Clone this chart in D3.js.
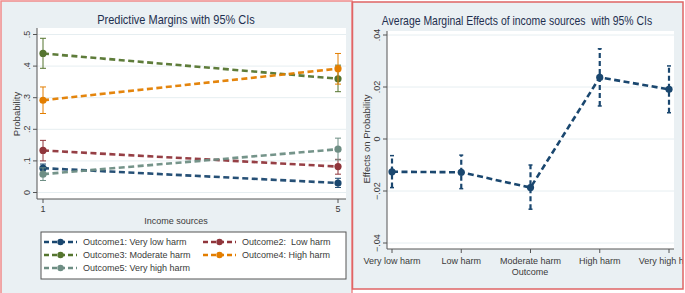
<!DOCTYPE html>
<html>
<head>
<meta charset="utf-8">
<script src="https://cdn.jsdelivr.net/npm/d3@7"></script>
<style>
  body { margin: 0; background: #fff; }
  svg { display: block; font-family: "Liberation Sans", Arial, sans-serif; }
  text { white-space: pre; }
</style>
</head>
<body>
<svg width="685" height="293"></svg>
<script>
// left panel data: predictive margins
const incomeTicks = [1, 5];
const outcomeLabels = ["Outcome1: Very low harm", "Outcome2:  Low harm", "Outcome3: Moderate harm",
                       "Outcome4: High harm", "Outcome5: Very high harm"];
const outcomeColors = ["#1a476f", "#90353b", "#55752f", "#e37e00", "#6e8e84"];
const marginMean = [[0.077, 0.030], [0.133, 0.082], [0.440, 0.360], [0.292, 0.392], [0.058, 0.137]];
const marginLow  = [[0.064, 0.016], [0.100, 0.058], [0.393, 0.319], [0.250, 0.343], [0.038, 0.103]];
const marginHigh = [[0.090, 0.045], [0.165, 0.105], [0.488, 0.403], [0.334, 0.440], [0.078, 0.172]];
const probTicks = [0, 0.1, 0.2, 0.3, 0.4, 0.5];

// right panel data: average marginal effects
const effectCats = ["Very low harm", "Low harm", "Moderate harm", "High harm", "Very high harm"];
const effectMean = [-0.0126, -0.0128, -0.0187, 0.0237, 0.0191];
const effectLow  = [-0.0187, -0.0191, -0.0270, 0.0127, 0.0101];
const effectHigh = [-0.0064, -0.0062, -0.0100, 0.0347, 0.0281];
const effectTicks = [-0.04, -0.02, 0, 0.02, 0.04];

const svg = d3.select('svg');
const bg = "#eaf0f3";
const axisCol = "#555";
const textCol = "#3a3a3a";
const titleCol = "#1e2f4f";

const fmt = d => d === 0 ? "0" : d3.format(".2~f")(d).replace("0.", ".");

// ---------- left panel ----------
svg.append('rect').attr('x', 1).attr('y', 1).attr('width', 351).attr('height', 295)
  .attr('fill', bg).attr('stroke', '#f08a8a').attr('stroke-width', 1.5);

const xL = d3.scaleLinear().domain([1, 5]).range([43, 338]);
const yL = d3.scaleLinear().domain([0, 0.5]).range([192.5, 34.5]);

svg.append('rect').attr('x', 37).attr('y', 28).attr('width', 309).attr('height', 171).attr('fill', '#fff');

const gL = svg.append('g');
gL.selectAll('.gridL').data(probTicks).join('line')
  .attr('x1', 37).attr('x2', 346)
  .attr('y1', d => yL(d)).attr('y2', d => yL(d))
  .attr('stroke', '#e6eef1').attr('stroke-width', 1);

// y axis
gL.append('line').attr('x1', 37).attr('x2', 37).attr('y1', 28).attr('y2', 199).attr('stroke', axisCol);
gL.selectAll('.ytL').data(probTicks).join('line')
  .attr('x1', 33).attr('x2', 37).attr('y1', d => yL(d)).attr('y2', d => yL(d)).attr('stroke', axisCol);
gL.selectAll('.ylabL').data(probTicks).join('text')
  .attr('transform', d => `translate(30, ${yL(d)}) rotate(-90)`)
  .attr('text-anchor', 'middle').attr('font-size', 9).attr('fill', textCol)
  .text(fmt);
svg.append('text').attr('transform', 'translate(20, 114) rotate(-90)')
  .attr('text-anchor', 'middle').attr('font-size', 9.5).attr('fill', textCol).text('Probability');

// x axis
gL.append('line').attr('x1', 37).attr('x2', 346).attr('y1', 199).attr('y2', 199).attr('stroke', axisCol);
gL.selectAll('.xtL').data(incomeTicks).join('line')
  .attr('x1', d => xL(d)).attr('x2', d => xL(d)).attr('y1', 199).attr('y2', 203).attr('stroke', axisCol);
gL.selectAll('.xlabL').data(incomeTicks).join('text')
  .attr('x', d => xL(d)).attr('y', 212).attr('text-anchor', 'middle')
  .attr('font-size', 9).attr('fill', textCol).text(d => d);
svg.append('text').attr('x', 176).attr('y', 224).attr('text-anchor', 'middle')
  .attr('font-size', 9).attr('fill', textCol).text('Income sources');

// title squeezed horizontally like the reference
svg.append('text').attr('transform', 'translate(176, 24) scale(0.88, 1)').attr('text-anchor', 'middle')
  .attr('font-size', 12.5).attr('fill', titleCol)
  .text('Predictive Margins with 95% CIs');

// series
outcomeLabels.forEach((name, i) => {
  const pts = incomeTicks.map((x, j) => ({x: x, m: marginMean[i][j], lo: marginLow[i][j], hi: marginHigh[i][j]}));
  const col = outcomeColors[i];
  const s = gL.append('g');
  s.selectAll('.ci').data(pts).join('line')
    .attr('x1', d => xL(d.x)).attr('x2', d => xL(d.x))
    .attr('y1', d => yL(d.lo)).attr('y2', d => yL(d.hi))
    .attr('stroke', col).attr('stroke-width', 1);
  ['lo', 'hi'].forEach(k => {
    s.selectAll('.cap' + k).data(pts).join('line')
      .attr('x1', d => xL(d.x) - 3).attr('x2', d => xL(d.x) + 3)
      .attr('y1', d => yL(d[k])).attr('y2', d => yL(d[k]))
      .attr('stroke', col).attr('stroke-width', 1);
  });
  s.append('path').datum(pts)
    .attr('d', d3.line().x(d => xL(d.x)).y(d => yL(d.m)))
    .attr('fill', 'none').attr('stroke', col).attr('stroke-width', 2.6)
    .attr('stroke-dasharray', '6,3.5').attr('opacity', 0.95);
  s.selectAll('circle').data(pts).join('circle')
    .attr('cx', d => xL(d.x)).attr('cy', d => yL(d.m)).attr('r', 3.6).attr('fill', col);
});

// legend
svg.append('rect').attr('x', 41).attr('y', 232).attr('width', 305).attr('height', 47)
  .attr('fill', '#fff').attr('stroke', '#555').attr('stroke-width', 1);
const legPos = [[44, 242], [203, 242], [44, 255], [203, 255], [44, 268]];
outcomeLabels.forEach((name, i) => {
  const [lx, ly] = legPos[i];
  const lg = svg.append('g');
  lg.append('line').attr('x1', lx).attr('x2', lx + 33).attr('y1', ly).attr('y2', ly)
    .attr('stroke', outcomeColors[i]).attr('stroke-width', 2.4).attr('stroke-dasharray', '5,3');
  lg.append('circle').attr('cx', lx + 16.5).attr('cy', ly).attr('r', 3.2).attr('fill', outcomeColors[i]);
  lg.append('text').attr('x', lx + 39).attr('y', ly + 3.3).attr('font-size', 9)
    .attr('fill', textCol).text(name);
});

// ---------- right panel ----------
svg.append('defs').append('clipPath').attr('id', 'rclip')
  .append('rect').attr('x', 352).attr('y', 2).attr('width', 331).attr('height', 287);

svg.append('rect').attr('x', 352.5).attr('y', 2).attr('width', 330.5).attr('height', 287)
  .attr('fill', bg);

const xR = d3.scalePoint().domain(effectCats).range([392, 669]);
const yR = d3.scaleLinear().domain([-0.04, 0.04]).range([243, 35]);

const gR = svg.append('g').attr('clip-path', 'url(#rclip)');
gR.append('rect').attr('x', 387).attr('y', 31).attr('width', 287).attr('height', 218).attr('fill', '#fff');
gR.selectAll('.gridR').data(effectTicks).join('line')
  .attr('x1', 387).attr('x2', 674)
  .attr('y1', d => yR(d)).attr('y2', d => yR(d))
  .attr('stroke', '#e6eef1').attr('stroke-width', 1);

gR.append('line').attr('x1', 387).attr('x2', 387).attr('y1', 31).attr('y2', 249).attr('stroke', axisCol);
gR.selectAll('.ytR').data(effectTicks).join('line')
  .attr('x1', 383).attr('x2', 387).attr('y1', d => yR(d)).attr('y2', d => yR(d)).attr('stroke', axisCol);
gR.selectAll('.ylabR').data(effectTicks).join('text')
  .attr('transform', d => `translate(380, ${yR(d)}) rotate(-90)`)
  .attr('text-anchor', 'middle').attr('font-size', 9).attr('fill', textCol)
  .text(fmt);
gR.append('text').attr('transform', 'translate(370, 139) rotate(-90)')
  .attr('text-anchor', 'middle').attr('font-size', 9.5).attr('fill', textCol).text('Effects on Probability');

gR.append('line').attr('x1', 387).attr('x2', 674).attr('y1', 249).attr('y2', 249).attr('stroke', axisCol);
gR.selectAll('.xtR').data(effectCats).join('line')
  .attr('x1', d => xR(d)).attr('x2', d => xR(d)).attr('y1', 249).attr('y2', 253).attr('stroke', axisCol);
gR.selectAll('.xlabR').data(effectCats).join('text')
  .attr('x', d => xR(d)).attr('y', 264).attr('text-anchor', 'middle')
  .attr('font-size', 9).attr('fill', textCol).text(d => d);
gR.append('text').attr('x', 530).attr('y', 275).attr('text-anchor', 'middle')
  .attr('font-size', 9).attr('fill', textCol).text('Outcome');

svg.append('text').attr('transform', 'translate(517, 25) scale(0.87, 1)').attr('text-anchor', 'middle')
  .attr('font-size', 12).attr('fill', titleCol)
  .text('Average Marginal Effects of income sources  with 95% CIs');

const eff = effectCats.map((c, i) => ({c: c, m: effectMean[i], lo: effectLow[i], hi: effectHigh[i]}));
const navy = "#1a476f";
gR.selectAll('.ciR').data(eff).join('line')
  .attr('x1', d => xR(d.c)).attr('x2', d => xR(d.c))
  .attr('y1', d => yR(d.lo)).attr('y2', d => yR(d.hi))
  .attr('stroke', navy).attr('stroke-width', 2.2).attr('stroke-dasharray', '5,3');
['lo', 'hi'].forEach(k => {
  gR.selectAll('.capR' + k).data(eff).join('line')
    .attr('x1', d => xR(d.c) - 2).attr('x2', d => xR(d.c) + 2)
    .attr('y1', d => yR(d[k])).attr('y2', d => yR(d[k]))
    .attr('stroke', navy).attr('stroke-width', 1.5);
});
gR.append('path').datum(eff)
  .attr('d', d3.line().x(d => xR(d.c)).y(d => yR(d.m)))
  .attr('fill', 'none').attr('stroke', navy).attr('stroke-width', 2.6)
  .attr('stroke-dasharray', '6,3.5');
gR.selectAll('.ptR').data(eff).join('circle')
  .attr('cx', d => xR(d.c)).attr('cy', d => yR(d.m)).attr('r', 3.6).attr('fill', navy);

svg.append('rect').attr('x', 352.5).attr('y', 2).attr('width', 330.5).attr('height', 287)
  .attr('fill', 'none').attr('stroke', '#e06464').attr('stroke-width', 1.5);
</script>
</body>
</html>
